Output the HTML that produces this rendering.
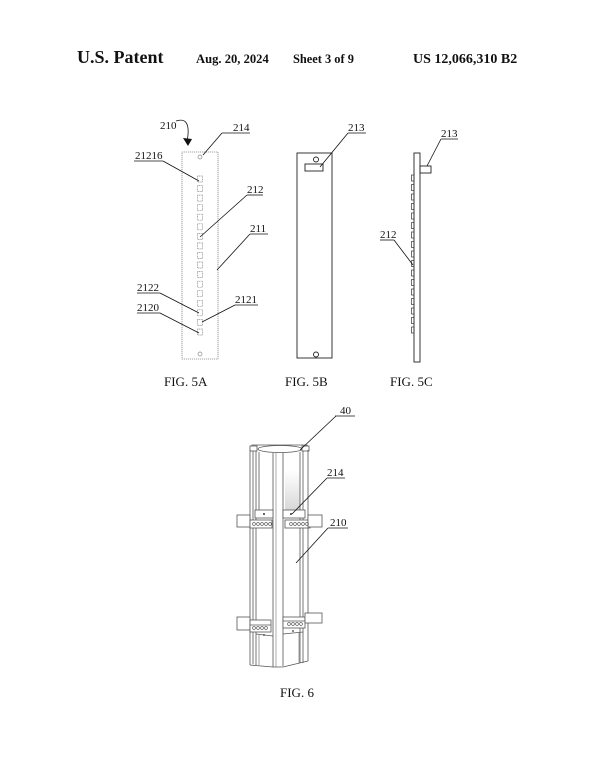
<!DOCTYPE html>
<html><head><meta charset="utf-8"><style>
html,body{margin:0;padding:0;background:#fff;}
svg{display:block;}
text{font-family:"Liberation Serif",serif;fill:#111;}
</style></head><body>
<svg width="600" height="776" viewBox="0 0 600 776" xmlns="http://www.w3.org/2000/svg">
<defs>
<linearGradient id="sh" x1="0" y1="0" x2="0" y2="1">
<stop offset="0" stop-color="#fff"/><stop offset="1" stop-color="#d8d8d8"/>
</linearGradient>
</defs>
<!-- header -->
<text x="77" y="63" font-size="18" font-weight="bold">U.S. Patent</text>
<text x="196" y="63" font-size="12.6" font-weight="bold">Aug. 20, 2024</text>
<text x="293" y="63" font-size="12.4" font-weight="bold">Sheet 3 of 9</text>
<text x="413" y="63" font-size="14" font-weight="bold">US 12,066,310 B2</text>

<!-- FIG 5A -->
<rect x="182" y="152" width="36" height="207" fill="none" stroke="#888" stroke-width="0.8" stroke-dasharray="1.2,0.8"/>
<circle cx="200" cy="157" r="2" fill="none" stroke="#888" stroke-width="0.7"/>
<circle cx="200" cy="354" r="2" fill="none" stroke="#888" stroke-width="0.7"/>
<g fill="none" stroke="#888" stroke-width="0.7" stroke-dasharray="1,0.6">
<rect x="197.5" y="176" width="5" height="6"/>
<rect x="197.5" y="185.6" width="5" height="6"/>
<rect x="197.5" y="195.1" width="5" height="6"/>
<rect x="197.5" y="204.7" width="5" height="6"/>
<rect x="197.5" y="214.2" width="5" height="6"/>
<rect x="197.5" y="223.8" width="5" height="6"/>
<rect x="197.5" y="233.4" width="5" height="6"/>
<rect x="197.5" y="242.9" width="5" height="6"/>
<rect x="197.5" y="252.5" width="5" height="6"/>
<rect x="197.5" y="262" width="5" height="6"/>
<rect x="197.5" y="271.6" width="5" height="6"/>
<rect x="197.5" y="281.2" width="5" height="6"/>
<rect x="197.5" y="290.7" width="5" height="6"/>
<rect x="197.5" y="300.3" width="5" height="6"/>
<rect x="197.5" y="309.8" width="5" height="6"/>
<rect x="197.5" y="319.4" width="5" height="6"/>
<rect x="197.5" y="329" width="5" height="6"/>
</g>
<g stroke="#111" stroke-width="0.8" fill="none">
<line x1="222" y1="133" x2="250" y2="133"/><line x1="222" y1="133" x2="203" y2="155"/>
<line x1="134" y1="161" x2="163" y2="161"/><line x1="163" y1="161" x2="199" y2="181"/>
<line x1="247" y1="195" x2="263" y2="195"/><line x1="247" y1="195" x2="200" y2="237"/>
<line x1="250" y1="234" x2="268" y2="234"/><line x1="250" y1="234" x2="217" y2="270"/>
<line x1="137" y1="293" x2="160" y2="293"/><line x1="160" y1="293" x2="199" y2="313"/>
<line x1="235" y1="305" x2="258" y2="305"/><line x1="235" y1="305" x2="202" y2="322"/>
<line x1="137" y1="313" x2="160" y2="313"/><line x1="160" y1="313" x2="199" y2="333"/>
<path d="M176,121 Q191,116 187.5,139"/>
</g>
<polygon points="183,138 192,139 188,146" fill="#111"/>
<g font-size="11">
<text x="160" y="129">210</text>
<text x="233" y="131">214</text>
<text x="135" y="159">21216</text>
<text x="247" y="193">212</text>
<text x="250" y="232">211</text>
<text x="137" y="291">2122</text>
<text x="235" y="303">2121</text>
<text x="137" y="311">2120</text>
</g>

<!-- FIG 5B -->
<g stroke="#222" stroke-width="0.9" fill="none">
<rect x="297" y="153" width="35" height="205"/>
<circle cx="316" cy="159.5" r="2.5"/>
<rect x="305" y="164" width="18" height="7"/>
<circle cx="316" cy="354.5" r="2.5"/>
<line x1="348" y1="133" x2="366" y2="133" stroke="#111" stroke-width="0.8"/>
<line x1="348" y1="133" x2="320" y2="167" stroke="#111" stroke-width="0.8"/>
</g>
<text x="348" y="131" font-size="11">213</text>

<!-- FIG 5C -->
<g stroke="#222" stroke-width="0.9" fill="none">
<rect x="414" y="153" width="6" height="209"/>
<rect x="420" y="166" width="11" height="7"/>
</g>
<g stroke="#333" stroke-width="0.7" fill="none">
<rect x="411.5" y="175" width="2.5" height="6"/>
<rect x="411.5" y="184.5" width="2.5" height="6"/>
<rect x="411.5" y="194" width="2.5" height="6"/>
<rect x="411.5" y="203.5" width="2.5" height="6"/>
<rect x="411.5" y="213" width="2.5" height="6"/>
<rect x="411.5" y="222.5" width="2.5" height="6"/>
<rect x="411.5" y="232" width="2.5" height="6"/>
<rect x="411.5" y="241.5" width="2.5" height="6"/>
<rect x="411.5" y="251" width="2.5" height="6"/>
<rect x="411.5" y="260.5" width="2.5" height="6"/>
<rect x="411.5" y="270" width="2.5" height="6"/>
<rect x="411.5" y="279.5" width="2.5" height="6"/>
<rect x="411.5" y="289" width="2.5" height="6"/>
<rect x="411.5" y="298.5" width="2.5" height="6"/>
<rect x="411.5" y="308" width="2.5" height="6"/>
<rect x="411.5" y="317.5" width="2.5" height="6"/>
<rect x="411.5" y="327" width="2.5" height="6"/>
</g>
<g stroke="#111" stroke-width="0.8">
<line x1="441" y1="139" x2="458" y2="139"/><line x1="441" y1="139" x2="427" y2="166"/>
<line x1="380" y1="240" x2="394" y2="240"/><line x1="394" y1="240" x2="413" y2="265"/>
</g>
<text x="441" y="137" font-size="11">213</text>
<text x="380" y="238" font-size="11">212</text>

<!-- captions -->
<text x="164" y="386" font-size="13">FIG. 5A</text>
<text x="285" y="386" font-size="13">FIG. 5B</text>
<text x="390" y="386" font-size="13">FIG. 5C</text>

<!-- FIG 6 -->
<rect x="285" y="470" width="15" height="40" fill="url(#sh)"/>
<g stroke="#555" stroke-width="0.8" fill="none">
<path d="M250,450 L252,445 L307,445 L309,450"/>
<rect x="250" y="446" width="7" height="5" fill="#fff"/>
<rect x="302" y="446" width="7" height="5" fill="#fff"/>
<ellipse cx="280" cy="449" rx="22" ry="3.5"/>
<line x1="250" y1="450" x2="250" y2="665"/>
<line x1="253" y1="451" x2="253" y2="664"/>
<line x1="256" y1="451" x2="256" y2="665"/>
<line x1="259" y1="452" x2="259" y2="510"/>
<line x1="273" y1="453" x2="273" y2="667"/>
<line x1="276" y1="453" x2="276" y2="667" stroke="#999"/>
<line x1="283" y1="453" x2="283" y2="666"/>
<line x1="300" y1="452" x2="300" y2="663"/>
<line x1="303" y1="451" x2="303" y2="663"/>
<line x1="308" y1="450" x2="308" y2="661"/>
<path d="M250,665 L273,667 L283,667 L308,661"/>
<rect x="237" y="515" width="13" height="12" fill="#fff"/>
<rect x="255" y="510" width="18" height="8" fill="#fff"/>
<rect x="250" y="520" width="22" height="8" fill="#fff"/>
<rect x="283" y="510" width="22" height="8" fill="#fff"/>
<rect x="285" y="520" width="25" height="8" fill="#fff"/>
<rect x="308" y="515" width="14" height="12" fill="#fff"/>
<rect x="237" y="617" width="13" height="13" fill="#fff"/>
<rect x="250" y="620" width="21" height="12" fill="#fff"/>
<line x1="250" y1="625" x2="271" y2="625"/>
<rect x="283" y="617" width="22" height="11" fill="#fff"/>
<line x1="283" y1="621" x2="305" y2="621"/>
<rect x="305" y="613" width="17" height="10" fill="#fff"/>
<path d="M256,634 L273,636"/>
<path d="M283,634 L303,632"/>
<line x1="259" y1="635" x2="259" y2="665" stroke="#888"/>
<line x1="299" y1="633" x2="299" y2="663" stroke="#888"/>
</g>
<g fill="none" stroke="#444" stroke-width="0.6">
<circle cx="254" cy="524" r="1.4"/><circle cx="258" cy="524" r="1.4"/><circle cx="262" cy="524" r="1.4"/><circle cx="266" cy="524" r="1.4"/><circle cx="270" cy="524" r="1.4"/>
<circle cx="291" cy="524" r="1.4"/><circle cx="295" cy="524" r="1.4"/><circle cx="299" cy="524" r="1.4"/><circle cx="303" cy="524" r="1.4"/><circle cx="307" cy="524" r="1.4"/>
<circle cx="254" cy="628" r="1.4"/><circle cx="258" cy="628" r="1.4"/><circle cx="262" cy="628" r="1.4"/><circle cx="266" cy="628" r="1.4"/>
<circle cx="289" cy="624" r="1.4"/><circle cx="293" cy="624" r="1.4"/><circle cx="297" cy="624" r="1.4"/><circle cx="301" cy="624" r="1.4"/>
</g>
<circle cx="264" cy="514" r="1" fill="#333"/>
<circle cx="291" cy="514" r="1" fill="#333"/>
<circle cx="264" cy="635" r="0.9" fill="#333"/>
<circle cx="293" cy="631" r="0.9" fill="#333"/>
<g stroke="#111" stroke-width="0.8">
<line x1="335" y1="416" x2="355" y2="416"/><line x1="336" y1="416" x2="300" y2="450"/>
<line x1="327" y1="478" x2="345" y2="478"/><line x1="327" y1="478" x2="292" y2="514"/>
<line x1="328" y1="528" x2="348" y2="528"/><line x1="328" y1="528" x2="296" y2="563"/>
</g>
<g font-size="11">
<text x="340" y="414">40</text>
<text x="327" y="476">214</text>
<text x="330" y="526">210</text>
</g>
<text x="280" y="697" font-size="13">FIG. 6</text>
</svg>
</body></html>
